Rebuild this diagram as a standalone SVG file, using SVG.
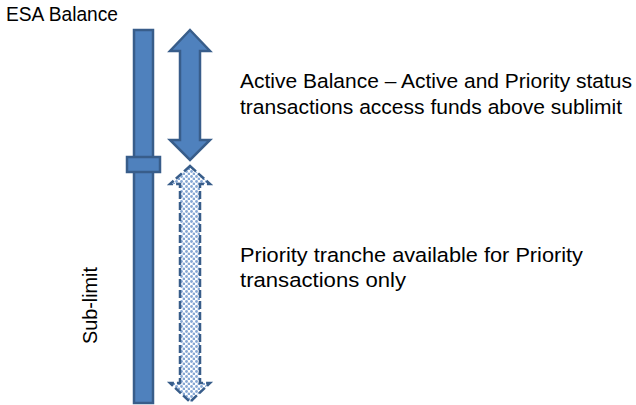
<svg xmlns="http://www.w3.org/2000/svg" width="636" height="405" viewBox="0 0 636 405">
  <style>
    .solid { fill: #4F81BD; stroke: #385D8A; stroke-width: 2.5; stroke-linejoin: miter; }
    .dotted { fill: url(#dots); stroke: #385D8A; stroke-width: 2.5; stroke-dasharray: 8 3; }
    .label { font-family: "Liberation Sans", Arial, sans-serif; font-size: 20.5px; fill: #000000; }
  </style>
  <defs>
    <!-- light blue dotted fill for the priority tranche arrow -->
    <pattern id="dots" width="5" height="5" patternUnits="userSpaceOnUse">
      <rect width="5" height="5" fill="#ffffff"/>
      <circle cx="1.5" cy="1.5" r="1.4" fill="#86A7D4"/>
      <circle cx="4" cy="4" r="1.4" fill="#86A7D4"/>
    </pattern>
  </defs>

  <g id="title">
    <text class="label" x="6" y="21" textLength="112" lengthAdjust="spacingAndGlyphs">ESA Balance</text>
  </g>

  <g id="balance-bar">
    <rect class="solid" x="134" y="30" width="19" height="373"/>
    <rect class="solid" x="127" y="157" width="33" height="15"/>
  </g>

  <g id="sublimit-label">
    <text class="label" transform="translate(96.5,344) rotate(-90)" x="0" y="0" textLength="77" lengthAdjust="spacingAndGlyphs">Sub-limit</text>
  </g>

  <g id="connectors">
    <polygon id="active-arrow" class="solid" points="190,30 210,51 200,51 200,140 210,140 190,160 170,140 180,140 180,51 170,51"/>
    <polygon id="priority-arrow" class="dotted" points="190,166 210,184 200,184 200,383 210,383 190,402 170,383 180,383 180,184 170,184"/>
  </g>

  <g id="active-text">
    <text class="label" x="240" y="88" textLength="392" lengthAdjust="spacingAndGlyphs">Active Balance – Active and Priority status</text>
    <text class="label" x="240" y="114" textLength="382" lengthAdjust="spacingAndGlyphs">transactions access funds above sublimit</text>
  </g>

  <g id="priority-text">
    <text class="label" x="240" y="262" textLength="343" lengthAdjust="spacingAndGlyphs">Priority tranche available for Priority</text>
    <text class="label" x="240" y="287" textLength="166" lengthAdjust="spacingAndGlyphs">transactions only</text>
  </g>
</svg>
